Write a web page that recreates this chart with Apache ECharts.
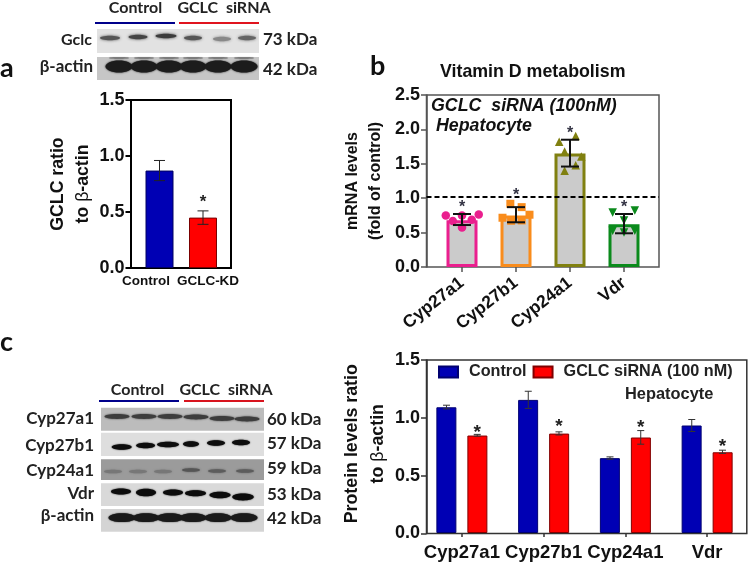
<!DOCTYPE html>
<html><head><meta charset="utf-8">
<style>html,body{margin:0;padding:0;background:#fff}#c{width:748px;height:562px}</style>
<script src="https://cdn.jsdelivr.net/npm/echarts@6/dist/echarts.min.js"></script></head>
<body><div id="c"></div>
<script>
// ---------- data ----------
const aCategories = ['Control', 'GCLC-KD'];
const aValues = [0.87, 0.45];
const aLow = [0.78, 0.39];
const aHigh = [0.96, 0.51];
const aStars = [null, 0.62];

const bCategories = ['Cyp27a1', 'Cyp27b1', 'Cyp24a1', 'Vdr'];
const bValues = [0.68, 0.75, 1.65, 0.62];
const bLow = [0.61, 0.65, 1.46, 0.49];
const bHigh = [0.77, 0.87, 1.85, 0.77];
const bStars = [0.92, 1.10, 2.00, 0.92];
const bRef = 1.02;
const bPts27a1 = [[-0.30,0.75],[-0.17,0.667],[0,0.75],[0,0.575],[0.18,0.687],[0.31,0.764]];
const bPts27b1 = [[-0.25,0.716],[-0.105,0.919],[-0.09,0.672],[0.105,0.87],[0.105,0.677],[0.25,0.76]];
const bPts24a1 = [[-0.2,1.82],[0.105,1.905],[-0.1,1.68],[0.21,1.605],[0.105,1.48],[-0.1,1.40]];
const bPtsVdr = [[-0.21,0.793],[0.2,0.822],[0,0.677],[-0.21,0.527],[0.2,0.527],[0,0.503]];

const cCategories = ['Cyp27a1', 'Cyp27b1', 'Cyp24a1', 'Vdr'];
const cControl = [1.09, 1.154, 0.649, 0.932];
const cControlLow = [1.076, 1.08, 0.64, 0.88];
const cControlHigh = [1.108, 1.229, 0.66, 0.984];
const cSirna = [0.845, 0.862, 0.828, 0.70];
const cSirnaLow = [0.84, 0.85, 0.77, 0.69];
const cSirnaHigh = [0.855, 0.877, 0.888, 0.718];
const cStars = [0.91, 0.966, 0.95, 0.785];

// ---------- style ----------
const BLUE = '#0000b4', RED = '#ff0000', AR = '"Liberation Sans",Arial,sans-serif', LA = 'Lato,"Open Sans",sans-serif';
const bColors = ['#ea1f8e', '#f98c1c', '#808010', '#0b8a1c'];
const bSymbols = ['circle', 'rect', 'triangle', 'triangle'];
const bRot = [0, 0, 0, 180];
const bPts = [bPts27a1, bPts27b1, bPts24a1, bPtsVdr];

function errSeries(x, y, low, high, off, half, color, lw, name) {
  return {
    type: 'custom', name, xAxisIndex: x, yAxisIndex: y, z: 6, silent: true,
    data: low.map((l, i) => [i + 0.5 + off, l, high[i]]),
    renderItem(p, api) {
      const a = api.coord([api.value(0), api.value(1)]), b = api.coord([api.value(0), api.value(2)]);
      const st = { stroke: color, lineWidth: lw, fill: null };
      const L = (x1, y1, x2, y2) => ({ type: 'line', shape: { x1, y1, x2, y2 }, style: st });
      return { type: 'group', children: [L(a[0], a[1], b[0], b[1]), L(a[0]-half, a[1], a[0]+half, a[1]), L(b[0]-half, b[1], b[0]+half, b[1])] };
    }
  };
}
function starSeries(x, y, stars, off, size, color, name) {
  return {
    type: 'custom', name, xAxisIndex: x, yAxisIndex: y, z: 7, silent: true,
    data: stars.map((s, i) => [i + 0.5 + off, s]).filter(d => d[1] != null),
    renderItem(p, api) {
      const a = api.coord([api.value(0), api.value(1)]);
      return { type: 'text', style: { text: '*', x: a[0], y: a[1] + size * 0.25, textAlign: 'center', textVerticalAlign: 'middle', font: '700 ' + size + 'px ' + AR, fill: color } };
    }
  };
}
function valueY(gridIndex, min, max, interval, color, w, extra) {
  return Object.assign({ type: 'value', gridIndex, min, max, interval, splitLine: { show: false },
    axisLine: { show: true, lineStyle: { color, width: w } },
    axisTick: { show: true, length: 5.5, lineStyle: { color, width: w } },
    axisLabel: { color: '#111', fontFamily: AR, fontWeight: 'bold', fontSize: 18, margin: 6.5, formatter: v => v.toFixed(1) } }, extra);
}
function hiddenY(gridIndex, min, max) { return { type: 'value', gridIndex, min, max, show: false }; }

const grids = [
  { left: 131, top: 100, width: 100, height: 168, show: true, borderColor: '#000', borderWidth: 2, backgroundColor: 'transparent' }, // a frame
  { left: 137.75, top: 100, width: 87, height: 168 }, // a bars
  { left: 426.5, top: 95, width: 232.5, height: 172, show: true, borderColor: '#555', borderWidth: 1.5, backgroundColor: 'transparent' }, // b frame
  { left: 435, top: 95, width: 216, height: 172 }, // b bars
  { left: 426.5, top: 360, width: 320.3, height: 173.5, show: true, borderColor: '#333', borderWidth: 1.5, backgroundColor: 'transparent' }, // c frame
  { left: 421, top: 360, width: 330, height: 173.5 } // c bars
];
const xAxes = [
  { type: 'value', gridIndex: 0, show: false, min: 0, max: 1 },
  { type: 'category', gridIndex: 1, data: aCategories, axisLine: { show: false }, axisTick: { show: false }, axisLabel: { show: false } },
  { type: 'value', gridIndex: 1, show: false, min: 0, max: 2 },
  { type: 'value', gridIndex: 2, show: false, min: 0, max: 1 },
  { type: 'category', gridIndex: 3, data: bCategories, axisLine: { show: false },
    axisTick: { show: true, alignWithLabel: true, length: 5, lineStyle: { color: '#555', width: 1.5 } },
    axisLabel: { color: '#111', fontFamily: AR, fontWeight: 'bold', fontSize: 17.5, rotate: 38, margin: 14, interval: 0 } },
  { type: 'value', gridIndex: 3, show: false, min: 0, max: 4 },
  { type: 'value', gridIndex: 4, show: false, min: 0, max: 1 },
  { type: 'category', gridIndex: 5, data: cCategories, axisLine: { show: false },
    axisTick: { show: true, alignWithLabel: true, length: 4, lineStyle: { color: '#333', width: 1.5 } },
    axisLabel: { color: '#111', fontFamily: AR, fontWeight: 'bold', fontSize: 18.5, margin: 10, interval: 0 } },
  { type: 'value', gridIndex: 5, show: false, min: 0, max: 4 }
];
function yName(name, gap, size, lh, pad) {
  return { name, nameLocation: 'middle', nameRotate: 90, nameGap: gap,
    nameTextStyle: { color: '#111', fontFamily: AR, fontWeight: 'bold', fontSize: size, lineHeight: lh, padding: pad || 0,
      rich: { g: { fontFamily: AR, fontWeight: 'normal', fontSize: size, lineHeight: lh, color: '#111' } } } };
}
const yAxes = [
  valueY(0, 0, 1.5, 0.5, '#000', 2, yName('GCLC ratio\nto {g|β}-actin', 33, 17.7, 25)),
  hiddenY(1, 0, 1.5),
  valueY(2, 0, 2.5, 0.5, '#555', 1.5, yName('mRNA levels\n(fold of control)', 39, 16, 23)),
  hiddenY(3, 0, 2.5),
  valueY(4, 0, 1.5, 0.5, '#333', 1.5, yName('Protein levels ratio\nto {g|β}-actin', 34.5, 17.8, 26, [0, 0, 0, 6])),
  hiddenY(5, 0, 1.5)
];

const series = [
  // panel a
  { type: 'bar', name: 'a', xAxisIndex: 1, yAxisIndex: 1, barWidth: 28, z: 3,
    data: aValues.map((v, i) => ({ value: v, itemStyle: { color: i ? RED : BLUE, borderColor: i ? '#7a0000' : '#000060', borderWidth: 1 } })) },
  errSeries(2, 1, aLow, aHigh, 0, 5.5, '#222', 1, 'a-err'),
  starSeries(2, 1, aStars, 0, 17, '#222', 'a-star'),
  // panel b
  { type: 'bar', name: 'b', xAxisIndex: 4, yAxisIndex: 3, barWidth: 31, z: 3,
    data: bValues.map((v, i) => ({ value: v, itemStyle: { color: '#cbcbcb', borderColor: bColors[i], borderWidth: 3 } })) },
  { type: 'line', name: 'ref', xAxisIndex: 3, yAxisIndex: 2, data: [], z: 4, silent: true,
    markLine: { silent: true, symbol: 'none', z: 4, label: { show: false }, lineStyle: { color: '#000', width: 2, type: [5, 3] }, data: [{ yAxis: bRef }] } },
  ...bPts.map((pts, i) => ({ type: 'scatter', name: 'b' + i, xAxisIndex: 5, yAxisIndex: 3, z: 5, silent: true,
    symbol: bSymbols[i], symbolRotate: bRot[i], symbolSize: i === 1 ? 8 : 8.5, itemStyle: { color: bColors[i], opacity: 1 },
    data: pts.map(p => [i + 0.5 + p[0], p[1]]) })),
  errSeries(5, 3, bLow, bHigh, 0, 9, '#111', 2, 'b-err'),
  starSeries(5, 3, bStars, 0, 16, '#334', 'b-star'),
  // panel c
  { type: 'bar', name: 'Control', xAxisIndex: 7, yAxisIndex: 5, barWidth: 20, barGap: '55%', z: 3,
    itemStyle: { color: BLUE, borderColor: '#000070', borderWidth: 1 }, data: cControl },
  { type: 'bar', name: 'GCLC siRNA (100 nM)', xAxisIndex: 7, yAxisIndex: 5, barWidth: 20, z: 3,
    itemStyle: { color: RED, borderColor: '#800000', borderWidth: 1 }, data: cSirna },
  errSeries(8, 5, cControlLow, cControlHigh, -0.188, 3.5, '#333', 1, 'c-err1'),
  errSeries(8, 5, cSirnaLow, cSirnaHigh, 0.188, 3.5, '#333', 1, 'c-err2'),
  starSeries(8, 5, cStars, 0.188, 19, '#222', 'c-star'),
  { type: 'line', name: 'c-frame', xAxisIndex: 6, yAxisIndex: 4, data: [], silent: true }
];

// ---------- western blots (drawn as decoration) ----------
const g = [];
const R = (x, y, w, h, fill, r) => g.push({ type: 'rect', silent: true, z: 1, shape: { x, y, width: w, height: h, r: r || 0 }, style: { fill } });
const band = (cx, cy, rx, ry, fill, blur) => g.push({ type: 'ellipse', silent: true, z: 2, shape: { cx, cy, rx, ry }, style: { fill, shadowBlur: blur, shadowColor: fill } });
const T = (x, y, text, font, fill, align) => g.push({ type: 'text', silent: true, z: 9, x, y, style: { text, font, fill: fill || '#111', textAlign: align || 'left', textVerticalAlign: 'middle' } });
const F = '700 16px ' + LA, F2 = '700 17px ' + LA;

// panel a
R(97, 29, 162, 24, '#e2e2e2');
[[110,38,'#555',10],[138,37,'#444',9.5],[166,36,'#3c3c3c',10.5],[193,38,'#555',9],[222,39,'#888',9],[247,38,'#666',9]].forEach(b => band(b[0], b[1], b[3], 2.2, b[2], 3));
R(97, 57, 162, 23, '#c6c6c6');
[119,144,169,193,218,244].forEach(x => { band(x, 66.5, 13.5, 6, '#1c1c1c', 2); band(x, 58, 10, 0.7, '#777', 1); });
T(135.5, 7.5, 'Control', F, '#222', 'center');
T(224, 7.5, 'GCLC  siRNA', F, '#222', 'center');
R(95, 22, 80, 2, '#00008b'); R(179, 22, 80, 2, '#e0141e');
T(92, 40, 'Gclc', F, '#222', 'right');
T(93, 66.5, 'β-actin', F2, '#222', 'right');
T(263, 40, '73 kDa', F2, '#222');
T(263, 69.5, '42 kDa', F2, '#222');

// panel a x labels (offset from bars in the original)
T(146, 281, aCategories[0], '700 13.5px ' + AR, '#111', 'center');
T(208, 281, aCategories[1], '700 13.5px ' + AR, '#111', 'center');

// panel c blots
R(101, 407.7, 163, 23, '#bcbcbc');
[[117,416.5],[144,416.5],[170,416.5],[196,417],[222,418.5],[247,419]].forEach(b => band(b[0], b[1], 12.5, 2.4, '#3d3d3d', 2));
R(101, 432.7, 163, 23.3, '#dedede');
[[121.7,447,10],[145.6,445.5,9.5],[168,444.5,11],[191,444,8],[216,443,9],[241,442.5,9]].forEach(b => band(b[0], b[1], b[2], 2.8, '#0d0d0d', 1.5));
R(101, 459.3, 163, 20.7, '#9b9b9b');
[[113,471.5,'#777'],[138,471.5,'#777'],[163,471.5,'#777'],[191,470,'#555'],[217,471,'#5c5c5c'],[245,471,'#5c5c5c']].forEach(b => band(b[0], b[1], 9, 1.8, b[2], 2));
R(101, 483.3, 163, 22.7, '#d9d9d9');
[[121,491.5,10,3],[146,492.5,10,3.8],[173,492.5,10,3],[195.5,493.3,10.5,3],[220,495,10.5,3.2],[243,497,10.7,3.4]].forEach(b => band(b[0], b[1], b[2], b[3], '#0c0c0c', 1.5));
R(101, 509, 163, 22.7, '#d4d4d4');
[122,146,170,193,218,244].forEach(x => band(x, 517.7, 13.5, 4.4, '#1a1a1a', 1.5));
T(137.5, 390, 'Control', F, '#222', 'center');
T(226, 390, 'GCLC  siRNA', F, '#222', 'center');
R(99, 400, 80, 2, '#00008b'); R(184, 400, 80, 2, '#d8141e');
[['Cyp27a1',419],['Cyp27b1',446],['Cyp24a1',471],['Vdr',494],['β-actin',516]].forEach(r => T(94, r[1], r[0], F2, '#222', 'right'));
[['60 kDa',420],['57 kDa',444],['59 kDa',469],['53 kDa',495],['42 kDa',519]].forEach(r => T(267, r[1], r[0], F2, '#222'));

// panel letters & texts
T(0, 68, 'a', '700 27px ' + LA, '#111');
T(370, 66, 'b', '700 27px ' + LA, '#111');
T(0, 342, 'c', '700 27px ' + LA, '#111');
T(440, 72.5, 'Vitamin D metabolism', '700 17.8px ' + AR, '#111');
T(431, 106, 'GCLC  siRNA (100nM)', 'italic 700 17.8px ' + AR, '#111');
T(436, 126, 'Hepatocyte', 'italic 700 17.8px ' + AR, '#111');
T(625, 394, 'Hepatocyte', '700 16.4px ' + AR, '#222');

const chart = echarts.init(document.getElementById('c'), null, { renderer: 'canvas' });
chart.setOption({
  animation: false, backgroundColor: '#fff',
  grid: grids, xAxis: xAxes, yAxis: yAxes, series, graphic: g,
  legend: { left: 438, top: 364, padding: 0, orient: 'horizontal', icon: 'rect', itemWidth: 19, itemHeight: 11, itemGap: 6, selectedMode: false,
    data: ['Control', 'GCLC siRNA (100 nM)'],
    textStyle: { color: '#222', fontFamily: AR, fontWeight: 'bold', fontSize: 16.2, padding: [0, 0, 0, 6] } }
});
</script></body></html>
